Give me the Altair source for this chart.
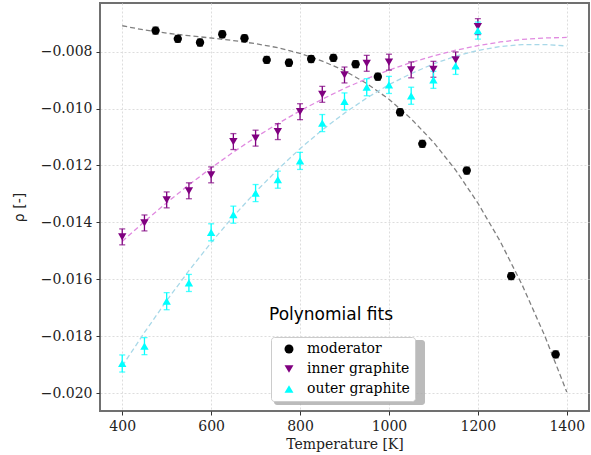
import altair as alt
import pandas as pd

# ---- data ----
moderator_T = [475, 525, 575, 625, 675, 725, 775, 825, 875, 925, 975, 1025, 1075, 1175, 1275, 1375]
moderator_rho = [-0.00726, -0.00755, -0.00768, -0.00739, -0.00753, -0.00829, -0.00839, -0.00826,
                 -0.00822, -0.00844, -0.00888, -0.01013, -0.01124, -0.01218, -0.01589, -0.01864]
moderator_err = [0.00012] * 16

graphite_T = [400, 450, 500, 550, 600, 650, 700, 750, 800, 850, 900, 950, 1000, 1050, 1100, 1150, 1200]
inner_rho = [-0.01451, -0.01402, -0.01321, -0.01289, -0.01233, -0.01116, -0.01104, -0.01081, -0.01011,
             -0.00950, -0.00882, -0.00841, -0.00837, -0.00864, -0.00862, -0.00829, -0.00712]
inner_err = [0.00028] * 17
outer_rho = [-0.01896, -0.01835, -0.01677, -0.01613, -0.01435, -0.01373, -0.01297, -0.01250, -0.01184,
             -0.01051, -0.00975, -0.00925, -0.00917, -0.00955, -0.00899, -0.00850, -0.00726]
outer_err = [0.00030] * 17

fit_T = [400, 450, 500, 550, 600, 650, 700, 750, 800, 850, 900, 950, 1000, 1050, 1100, 1150, 1200,
         1250, 1300, 1350, 1400]
moderator_fit = [-0.00709, -0.00724, -0.00735, -0.00744, -0.00752, -0.00761, -0.00772, -0.00786, -0.00806,
                 -0.00833, -0.00867, -0.00912, -0.00967, -0.01036, -0.01118, -0.01216, -0.01332, -0.01466,
                 -0.01621, -0.01797, -0.01996]
inner_fit = [-0.01467, -0.01397, -0.01331, -0.01268, -0.01209, -0.01153, -0.01101, -0.01053, -0.01008,
             -0.00967, -0.00929, -0.00895, -0.00865, -0.00838, -0.00815, -0.00795, -0.00779, -0.00766,
             -0.00757, -0.00752, -0.00750]
outer_fit = [-0.01905, -0.01787, -0.01675, -0.01570, -0.01471, -0.01379, -0.01293, -0.01214, -0.01141,
             -0.01075, -0.01016, -0.00963, -0.00916, -0.00877, -0.00843, -0.00816, -0.00796, -0.00782,
             -0.00775, -0.00775, -0.00780]

series_names = ["moderator", "inner graphite", "outer graphite"]
marker_colors = ["#000000", "#800080", "#00FFFF"]
marker_shapes = ["circle", "triangle-down", "triangle-up"]
fit_colors = ["#808080", "#E08AE0", "#A8D8E8"]

# ---- tables ----
rows = []
for T, r, e in zip(moderator_T, moderator_rho, moderator_err):
    rows.append({"T": T, "rho": r, "lo": r - e, "hi": r + e, "series": "moderator"})
for T, r, e in zip(graphite_T, inner_rho, inner_err):
    rows.append({"T": T, "rho": r, "lo": r - e, "hi": r + e, "series": "inner graphite"})
for T, r, e in zip(graphite_T, outer_rho, outer_err):
    rows.append({"T": T, "rho": r, "lo": r - e, "hi": r + e, "series": "outer graphite"})
pts = pd.DataFrame(rows)

frows = []
for name, vals, fc in zip(series_names, [moderator_fit, inner_fit, outer_fit], fit_colors):
    for T, v in zip(fit_T, vals):
        frows.append({"T": T, "rho": v, "series": name, "fc": fc})
fits = pd.DataFrame(frows)

xs = alt.Scale(domain=[350, 1450], nice=False, zero=False)
ys = alt.Scale(domain=[-0.02063, -0.00629], nice=False, zero=False)

xax = alt.Axis(values=[400, 600, 800, 1000, 1200, 1400], format="d", title="Temperature [K]",
               grid=True, gridColor="#dddddd", gridDash=[2, 2], gridWidth=1,
               tickSize=4, labelPadding=4, titlePadding=4,
               labelFont="DejaVu Serif", titleFont="DejaVu Serif")
yax = alt.Axis(values=[-0.020, -0.018, -0.016, -0.014, -0.012, -0.010, -0.008], format=".3f",
               title="ρ [-]", titleFont="DejaVu Sans", labelFont="DejaVu Serif",
               grid=True, gridColor="#dddddd",
               gridDash=[2, 2], gridWidth=1, tickSize=4, labelPadding=4, titlePadding=14)

col_scale = alt.Scale(domain=series_names, range=marker_colors)
shp_scale = alt.Scale(domain=series_names, range=marker_shapes)

leg = alt.Legend(title=None, orient="none", legendX=171, legendY=334, padding=5,
                 symbolOffset=6, labelOffset=11, rowPadding=6,
                 fillColor="white", strokeColor="#cccccc", cornerRadius=3,
                 labelFont="DejaVu Serif", labelFontSize=14, labelColor="#000000",
                 symbolSize=80, symbolStrokeWidth=0, symbolOpacity=1)

COL = alt.Color("series:N", scale=col_scale, legend=leg, sort=series_names)

shadow = alt.Chart(pd.DataFrame({"k": [0]})).mark_rect(color="#aaaaaa", opacity=0.8, cornerRadius=3).encode(
    x=alt.value(174), x2=alt.value(325), y=alt.value(337), y2=alt.value(402)
)

lines = alt.Chart(fits).mark_line(strokeDash=[5, 3], strokeWidth=1.3).encode(
    x=alt.X("T:Q", scale=xs, axis=xax), y=alt.Y("rho:Q", scale=ys, axis=yax),
    color=alt.Color("fc:N", scale=None), detail="series:N"
)

bars = alt.Chart(pts).mark_rule(strokeWidth=1.3).encode(
    x=alt.X("T:Q", scale=xs), y=alt.Y("lo:Q", scale=ys), y2="hi:Q", color=COL
)
cap_lo = alt.Chart(pts).mark_tick(orient="horizontal", size=6, thickness=1.3).encode(
    x=alt.X("T:Q", scale=xs), y=alt.Y("lo:Q", scale=ys), color=COL
)
cap_hi = alt.Chart(pts).mark_tick(orient="horizontal", size=6, thickness=1.3).encode(
    x=alt.X("T:Q", scale=xs), y=alt.Y("hi:Q", scale=ys), color=COL
)

points = alt.Chart(pts).mark_point(filled=True, opacity=1, size=70).encode(
    x=alt.X("T:Q", scale=xs), y=alt.Y("rho:Q", scale=ys),
    color=COL,
    shape=alt.Shape("series:N", scale=shp_scale, legend=leg, sort=series_names),
)

title = alt.Chart(pd.DataFrame({"t": ["Polynomial fits"]})).mark_text(
    align="left", baseline="alphabetic", font="DejaVu Sans", fontSize=17, color="#000000"
).encode(x=alt.value(169), y=alt.value(317), text="t:N")

chart = alt.layer(shadow, lines, bars, cap_lo, cap_hi, points, title).properties(
    width=489, height=408,
    autosize=alt.AutoSizeParams(type="none"),
    padding={"left": 100, "top": 3, "right": 2, "bottom": 44},
).configure_view(
    stroke="#707070", strokeWidth=2
).configure_axis(
    domain=False, labelFont="DejaVu Serif", labelFontSize=14, labelColor="#222222",
    titleFont="DejaVu Serif", titleFontSize=14, titleFontWeight="normal", titleColor="#222222",
    tickColor="#333333"
).configure_legend(
    labelFont="DejaVu Serif", labelFontSize=14, labelColor="#000000", symbolOpacity=1
)

chart.save("out.html", embed_options={"renderer": "svg", "actions": False})
